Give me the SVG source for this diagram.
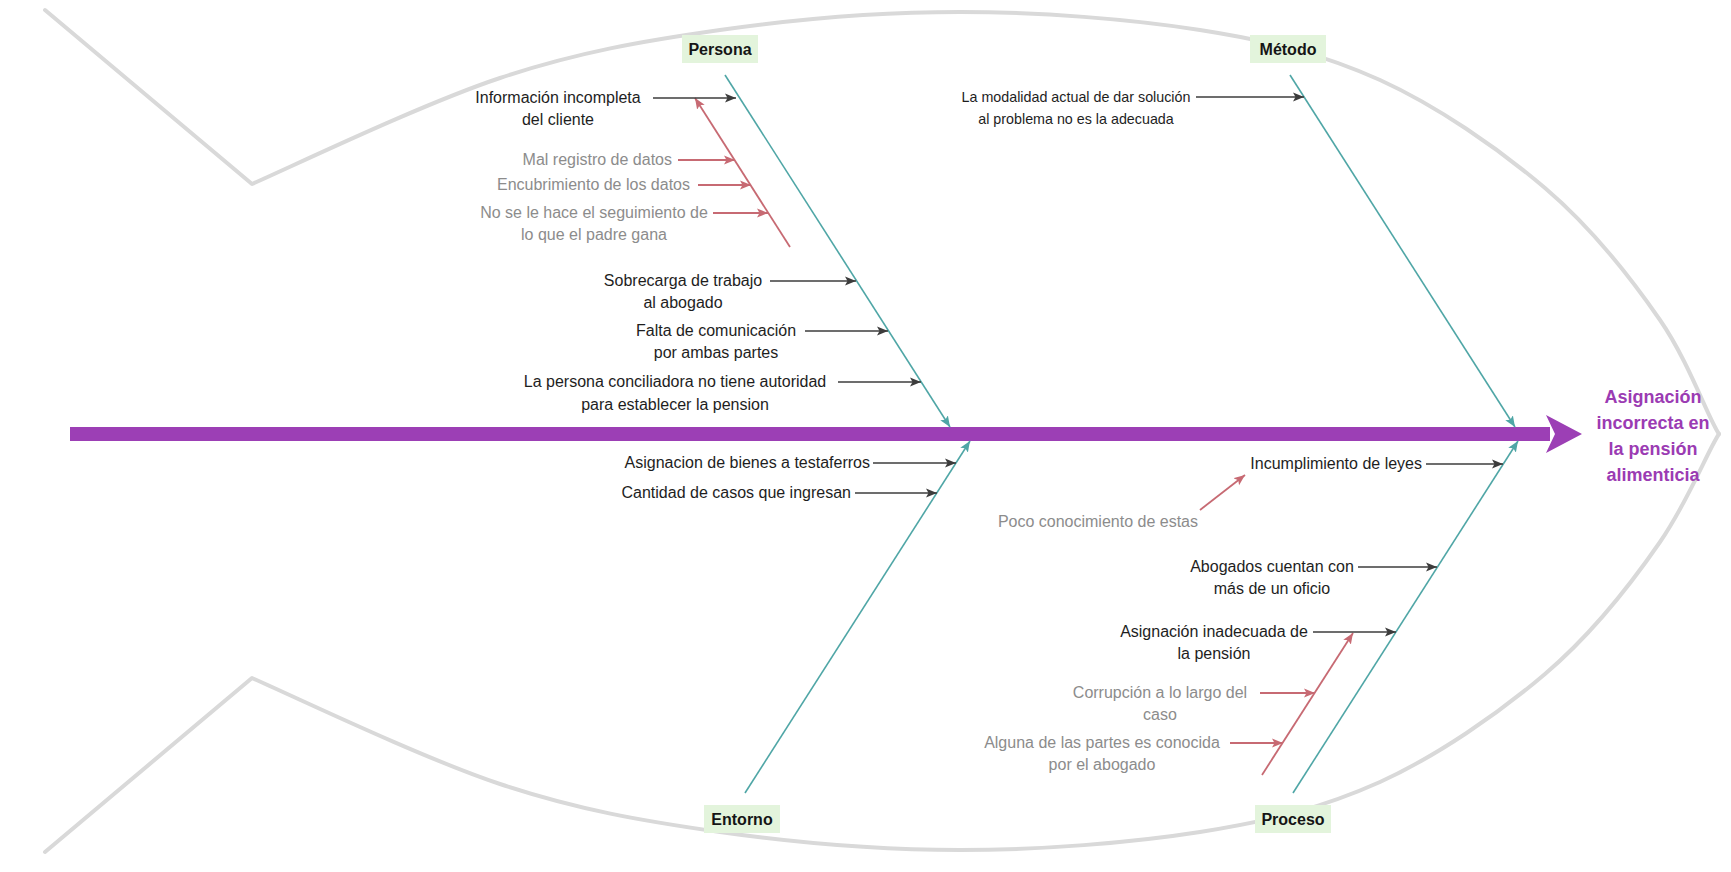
<svg xmlns="http://www.w3.org/2000/svg" width="1731" height="872" viewBox="0 0 1731 872">
<defs>
<style>
.outline{fill:none;stroke:#d9d9d9;stroke-width:4;stroke-linecap:round;stroke-linejoin:round}
.bone{stroke:#4fa6a6;stroke-width:1.6;fill:none}
.dark{stroke:#3c3c3c;stroke-width:1.6;fill:none}
.red{stroke:#c76a73;stroke-width:1.8;fill:none}
.t{font-family:"Liberation Sans",Arial,sans-serif;font-size:16px;fill:#1e1e1e}
.g{font-family:"Liberation Sans",Arial,sans-serif;font-size:16px;fill:#8c8c8c}
.cat{font-family:"Liberation Sans",Arial,sans-serif;font-size:16px;font-weight:bold;fill:#151515;text-anchor:middle}
.box{fill:#e3f4dc}
.eff{font-family:"Liberation Sans",Arial,sans-serif;font-size:18px;font-weight:bold;fill:#9b3bb3;text-anchor:middle}
.m{text-anchor:middle}
.e{text-anchor:end}
.s{font-size:14.3px}
</style>
<marker id="aD" markerUnits="userSpaceOnUse" markerWidth="12" markerHeight="10" refX="11" refY="5" orient="auto"><path d="M0,0.5 L11,5 L0,9.5 L2.5,5 z" fill="#3c3c3c"/></marker>
<marker id="aR" markerUnits="userSpaceOnUse" markerWidth="12" markerHeight="10" refX="11" refY="5" orient="auto"><path d="M0,0.5 L11,5 L0,9.5 L2.5,5 z" fill="#c76a73"/></marker>
<marker id="aT" markerUnits="userSpaceOnUse" markerWidth="12" markerHeight="10" refX="11" refY="5" orient="auto"><path d="M0,0.5 L11,5 L0,9.5 L2.5,5 z" fill="#4fa6a6"/></marker>
</defs>
<rect width="1731" height="872" fill="#ffffff"/>

<g id="fish-outline">
<path class="outline" d="M45,10 L252,184 C293,166 422,104 500,78 C578,52 643,41 720,30 C797,19 880,12 960,12 C1040,12 1130,19 1200,30 C1270,41 1322,54 1380,80 C1437,106 1498,148 1545,188 C1592,228 1631,278 1660,320 C1689,362 1708,418 1719,434"/>
<path class="outline" d="M45,852 L252,678 C293,696 422,758 500,784 C578,810 643,821 720,832 C797,843 880,850 960,850 C1040,850 1130,843 1200,832 C1270,821 1322,808 1380,782 C1437,756 1498,714 1545,674 C1592,634 1631,584 1660,542 C1689,500 1708,450 1719,434"/>
</g>

<g id="spine">
<rect x="70" y="427" width="1480" height="14" fill="#9c3fb5"/>
<path d="M1546,415 L1582,434 L1546,453 L1555,434 z" fill="#9c3fb5"/>
</g>

<g id="connectors">
<line class="bone" x1="725" y1="75" x2="950" y2="427" marker-end="url(#aT)"/>
<line class="bone" x1="1290" y1="75" x2="1515" y2="427" marker-end="url(#aT)"/>
<line class="bone" x1="745" y1="793" x2="970" y2="441" marker-end="url(#aT)"/>
<line class="bone" x1="1293" y1="793" x2="1518" y2="441" marker-end="url(#aT)"/>

<line class="red" x1="790" y1="247" x2="695" y2="98" marker-end="url(#aR)"/>
<line class="red" x1="1262" y1="775" x2="1353" y2="633" marker-end="url(#aR)"/>
<line class="red" x1="1200" y1="510" x2="1245" y2="475" marker-end="url(#aR)"/>

<line class="dark" x1="653" y1="98" x2="736" y2="98" marker-end="url(#aD)"/>
<line class="red" x1="678" y1="160" x2="735" y2="160" marker-end="url(#aR)"/>
<line class="red" x1="698" y1="185" x2="751" y2="185" marker-end="url(#aR)"/>
<line class="red" x1="713" y1="213" x2="768" y2="213" marker-end="url(#aR)"/>
<line class="dark" x1="770" y1="281" x2="856" y2="281" marker-end="url(#aD)"/>
<line class="dark" x1="805" y1="331" x2="888" y2="331" marker-end="url(#aD)"/>
<line class="dark" x1="838" y1="382" x2="921" y2="382" marker-end="url(#aD)"/>
<line class="dark" x1="873" y1="463" x2="956" y2="463" marker-end="url(#aD)"/>
<line class="dark" x1="855" y1="493" x2="937" y2="493" marker-end="url(#aD)"/>
<line class="dark" x1="1196" y1="97" x2="1304" y2="97" marker-end="url(#aD)"/>
<line class="dark" x1="1426" y1="464" x2="1503" y2="464" marker-end="url(#aD)"/>
<line class="dark" x1="1358" y1="567" x2="1437" y2="567" marker-end="url(#aD)"/>
<line class="dark" x1="1313" y1="632" x2="1396" y2="632" marker-end="url(#aD)"/>
<line class="red" x1="1260" y1="693" x2="1315" y2="693" marker-end="url(#aR)"/>
<line class="red" x1="1230" y1="743" x2="1283" y2="743" marker-end="url(#aR)"/>
</g>

<g id="cat-persona"><rect class="box" x="682" y="35" width="76" height="28"/><text class="cat" x="720" y="55">Persona</text></g>
<g id="cat-metodo"><rect class="box" x="1250" y="35" width="76" height="28"/><text class="cat" x="1288" y="55">Método</text></g>
<g id="cat-entorno"><rect class="box" x="704" y="805" width="76" height="28"/><text class="cat" x="742" y="825">Entorno</text></g>
<g id="cat-proceso"><rect class="box" x="1255" y="805" width="76" height="28"/><text class="cat" x="1293" y="825">Proceso</text></g>

<g id="effect"><text class="eff" x="1653" y="403">Asignación</text><text class="eff" x="1653" y="429">incorrecta en</text><text class="eff" x="1653" y="455">la pensión</text><text class="eff" x="1653" y="481">alimenticia</text></g>

<g id="c1"><text class="t m" x="558" y="103">Información incompleta</text><text class="t m" x="558" y="125">del cliente</text></g>
<g id="c1a"><text class="g e" x="672" y="165">Mal registro de datos</text></g>
<g id="c1b"><text class="g e" x="690" y="190">Encubrimiento de los datos</text></g>
<g id="c1c"><text class="g m" x="594" y="218">No se le hace el seguimiento de</text><text class="g m" x="594" y="240">lo que el padre gana</text></g>
<g id="c2"><text class="t m" x="683" y="286">Sobrecarga de trabajo</text><text class="t m" x="683" y="308">al abogado</text></g>
<g id="c3"><text class="t m" x="716" y="336">Falta de comunicación</text><text class="t m" x="716" y="358">por ambas partes</text></g>
<g id="c4"><text class="t m" x="675" y="387">La persona conciliadora no tiene autoridad</text><text class="t m" x="675" y="410">para establecer la pension</text></g>
<g id="c5"><text class="t e" x="870" y="468">Asignacion de bienes a testaferros</text></g>
<g id="c6"><text class="t e" x="851" y="498">Cantidad de casos que ingresan</text></g>
<g id="c7"><text class="t m s" x="1076" y="102">La modalidad actual de dar solución</text><text class="t m s" x="1076" y="124">al problema no es la adecuada</text></g>
<g id="c8"><text class="t e" x="1422" y="469">Incumplimiento de leyes</text></g>
<g id="c8a"><text class="g e" x="1198" y="527">Poco conocimiento de estas</text></g>
<g id="c9"><text class="t m" x="1272" y="572">Abogados cuentan con</text><text class="t m" x="1272" y="594">más de un oficio</text></g>
<g id="c10"><text class="t m" x="1214" y="637">Asignación inadecuada de</text><text class="t m" x="1214" y="659">la pensión</text></g>
<g id="c10a"><text class="g m" x="1160" y="698">Corrupción a lo largo del</text><text class="g m" x="1160" y="720">caso</text></g>
<g id="c10b"><text class="g m" x="1102" y="748">Alguna de las partes es conocida</text><text class="g m" x="1102" y="770">por el abogado</text></g>
</svg>
